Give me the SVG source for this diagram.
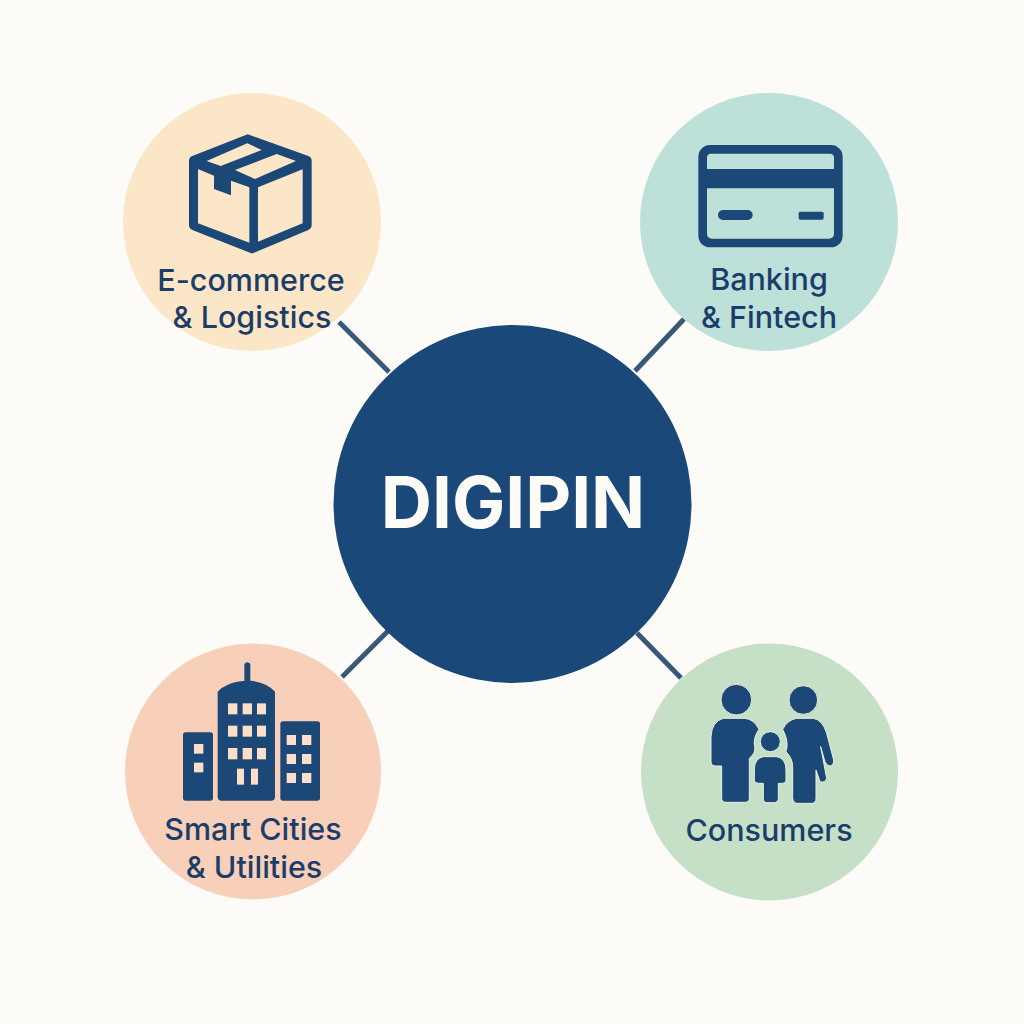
<svg xmlns="http://www.w3.org/2000/svg" width="1024" height="1024" viewBox="0 0 1024 1024">
<style>
.ink{fill:#1b4877}
.lab{font-family:Inter,"Noto Sans","Liberation Sans",sans-serif;font-weight:500;font-size:30.5px;fill:#1a3e69;text-anchor:middle}
.title{font-family:Inter,"Liberation Sans",sans-serif;font-weight:700;font-size:71px;fill:#fdfbf6;text-anchor:middle}
.con{stroke:#38587a;stroke-width:5;fill:none}
</style>
<rect width="1024" height="1024" fill="#fdfbf7"/>
<g id="connectors">
<line class="con" x1="339" y1="322" x2="389" y2="372"/>
<line class="con" x1="684" y1="319" x2="635" y2="371"/>
<line class="con" x1="342" y1="677" x2="388" y2="631"/>
<line class="con" x1="681" y1="678" x2="637" y2="633"/>
</g>
<g id="center">
<circle cx="512.5" cy="504" r="179" fill="#1a4879"/>
<text class="title" x="513" y="528">DIGIPIN</text>
</g>
<g id="ecommerce">
<circle cx="252" cy="222" r="129" fill="#fce6c8"/>
<g transform="translate(120 90) scale(.33333)">
<path class="ink" d="M383,133 L565,198 Q575,202 575,212 V405 Q575,415 565,420 L402,488 Q396,491 390,488 L217,420 Q207,415 207,405 V212 Q207,202 217,198 Z"/>
<g fill="#fce6c8">
<path d="M260,213 L382,160 L425,180 L302,228 Z"/>
<path d="M345,240 L470,192 L528,213 L405,267 Z"/>
<path d="M234,237 L282,257 V297 L333,316 V272 L388,292 V458 L234,400 Z"/>
<path d="M414,292 L548,238 V400 L414,455 Z"/>
</g>
</g>
<text class="lab" x="251" y="291">E-commerce</text>
<text class="lab" x="252" y="328">&amp; Logistics</text>
</g>
<g id="banking">
<circle cx="769" cy="222" r="129" fill="#bde0d9"/>
<g transform="translate(630 90) scale(.33333)">
<rect class="ink" x="205" y="165" width="433" height="307" rx="35"/>
<g fill="#bde0d9">
<path d="M231,237 V203 Q231,191 243,191 H600 Q612,191 612,203 V237 Z"/>
<path d="M231,295 H612 V430 Q612,446 596,446 H247 Q231,446 231,430 Z"/>
</g>
<rect class="ink" x="264" y="360" width="104" height="30" rx="15"/>
<rect class="ink" x="506" y="365" width="75" height="24" rx="5"/>
</g>
<text class="lab" x="769" y="290">Banking</text>
<text class="lab" x="769" y="328">&amp; Fintech</text>
</g>
<g id="cities">
<circle cx="253" cy="771.5" r="128" fill="#f8cfb9"/>
<g transform="translate(120 630) scale(.33333)">
<g class="ink">
<path d="M373,155 V102 Q382,92 391,102 V152 Q440,157 465,185 V500 Q465,512 453,512 H305 Q293,512 293,500 V185 Q318,157 373,152 Z"/>
<rect x="189" y="307" width="90" height="205" rx="8"/>
<rect x="481" y="274" width="119" height="238" rx="8"/>
</g>
<g fill="#fbdfc8">
<rect x="324" y="220" width="28" height="33"/><rect x="368" y="220" width="28" height="33"/><rect x="411" y="220" width="27" height="33"/>
<rect x="324" y="287" width="28" height="33"/><rect x="368" y="287" width="28" height="33"/><rect x="411" y="287" width="27" height="33"/>
<rect x="324" y="354" width="28" height="34"/><rect x="368" y="354" width="28" height="34"/><rect x="411" y="354" width="27" height="34"/>
<rect x="351" y="416" width="21" height="48"/><rect x="393" y="416" width="21" height="48"/>
<rect x="222" y="342" width="28" height="29"/><rect x="222" y="398" width="28" height="29"/>
<rect x="500" y="315" width="28" height="30"/><rect x="546" y="315" width="28" height="30"/>
<rect x="500" y="372" width="28" height="30"/><rect x="546" y="372" width="28" height="30"/>
<rect x="500" y="429" width="28" height="30"/><rect x="546" y="429" width="28" height="30"/>
</g>
</g>
<text class="lab" x="253" y="840">Smart Cities</text>
<text class="lab" x="254" y="878">&amp; Utilities</text>
</g>
<g id="consumers">
<circle cx="769.5" cy="772" r="128.5" fill="#c6e0c8"/>
<g transform="translate(630 630) scale(.33333)" stroke="#e6f1dd" stroke-width="3">
<g class="ink">
<circle cx="319" cy="209" r="46"/>
<circle cx="520" cy="210" r="43"/>
<path d="M280,265 H345 Q372,268 387,298 Q368,325 374,352 Q378,368 358,385 V505 Q358,517 345,517 H288 Q275,517 275,505 V408 H255 Q243,408 243,396 V320 Q245,275 280,265 Z"/>
<path d="M500,265 H550 Q578,270 590,310 L611,390 Q612,405 600,408 Q590,408 585,395 L572,350 L590,445 Q585,460 570,455 L558,420 V505 Q558,520 545,520 H502 Q490,520 488,505 V410 Q488,385 468,365 Q478,335 458,298 Q472,270 500,265 Z"/>
<circle cx="421" cy="335" r="30"/>
<path d="M400,380 H440 Q468,385 468,420 V450 Q468,460 455,460 H445 V505 Q445,518 430,518 H412 Q400,518 400,505 V460 H385 Q373,460 373,450 V420 Q373,385 400,380 Z"/>
</g>
</g>
<text class="lab" x="769" y="841">Consumers</text>
</g>
</svg>
